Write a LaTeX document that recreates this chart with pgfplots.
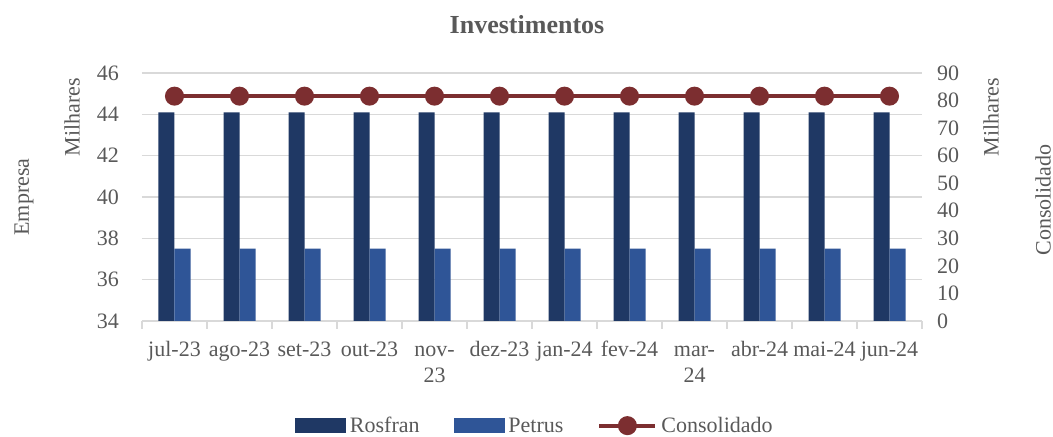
\documentclass[border=0pt]{standalone}
\usepackage{fontspec}
\setmainfont{Liberation Serif}
\usepackage{pgfplots}
\pgfplotsset{compat=1.18}
\definecolor{rosfran}{RGB}{31,56,100}
\definecolor{petrus}{RGB}{47,85,151}
\definecolor{consol}{RGB}{124,46,48}
\definecolor{txt}{RGB}{89,89,89}
\definecolor{gridc}{RGB}{217,217,217}

\newcommand{\two}[2]{\begin{tabular}[t]{@{}c@{}}#1\\#2\end{tabular}}

\pgfplotsset{common/.style={
  scale only axis, width=390pt, height=124pt,
  xmin=-0.5, xmax=11.5,
  tick label style={font=\fontsize{11}{13}\selectfont, text=txt},
  /pgf/number format/assume math mode=true,
}}

\begin{document}
\begin{tikzpicture}
\path[use as bounding box] (-71pt,-58pt) rectangle (455.5pt,160.5pt);
\begin{axis}[common, name=ax,
  ybar=0pt, bar width=8pt,
  ymin=34, ymax=46, ytick distance=2,
  axis x line*=bottom, axis y line*=left,
  y axis line style={draw=none},
  x axis line style={gridc, line width=0.8pt, -},
  ymajorgrids, grid style={gridc, line width=0.8pt},
  major y tick style={draw=none},
  yticklabel style={xshift=-8pt},
  xtick={0,...,11},
  xticklabels={jul-23,ago-23,set-23,out-23,\two{nov-}{23},dez-23,jan-24,fev-24,\two{mar-}{24},abr-24,mai-24,jun-24},
  xticklabel style={anchor=north, text height=8pt, yshift=-2pt},
  major x tick style={draw=none},
  extra x ticks={-0.5,0.5,1.5,2.5,3.5,4.5,5.5,6.5,7.5,8.5,9.5,10.5,11.5},
  extra x tick labels={},
  extra x tick style={grid=none, tick align=outside, major tick length=4pt,
    major x tick style={draw=gridc, line width=0.8pt}},
]
\addplot[fill=rosfran, draw=none] coordinates {
  (0,44.1) (1,44.1) (2,44.1) (3,44.1) (4,44.1) (5,44.1)
  (6,44.1) (7,44.1) (8,44.1) (9,44.1) (10,44.1) (11,44.1)};
\addplot[fill=petrus, draw=none] coordinates {
  (0,37.5) (1,37.5) (2,37.5) (3,37.5) (4,37.5) (5,37.5)
  (6,37.5) (7,37.5) (8,37.5) (9,37.5) (10,37.5) (11,37.5)};
\end{axis}

\begin{axis}[common,
  ymin=0, ymax=90, ytick distance=10,
  axis x line=none, axis y line*=right,
  y axis line style={draw=none},
  major y tick style={draw=none},
  yticklabel style={xshift=4pt},
  legend columns=3,
  legend style={at={(0.505,-0.422)}, anchor=center, draw=none, fill=none,
    font=\fontsize{11}{12}\selectfont, text=txt,
    nodes={text height=7.5pt, text depth=0.5pt},
    /tikz/every even column/.append style={column sep=15pt}},
  legend cell align=left,
]
\addlegendimage{legend image code/.code={\fill[rosfran] (0pt,-3.5pt) rectangle (25pt,3.5pt);}}
\addlegendentry{Rosfran}
\addlegendimage{legend image code/.code={\fill[petrus] (0pt,-3.5pt) rectangle (25pt,3.5pt);}}
\addlegendentry{Petrus}
\addplot[consol, line width=2pt, mark=*, mark size=3.75pt,
  legend image code/.code={\draw[consol, line width=2pt] (0pt,0pt) -- (28pt,0pt);
    \fill[consol] (14pt,0pt) circle (3.75pt);}]
  coordinates {
  (0,81.6) (1,81.6) (2,81.6) (3,81.6) (4,81.6) (5,81.6)
  (6,81.6) (7,81.6) (8,81.6) (9,81.6) (10,81.6) (11,81.6)};
\addlegendentry{Consolidado}
\end{axis}

\node[font=\bfseries\fontsize{13}{15}\selectfont, text=txt] at (192.5pt,148pt) {Investimentos};
\node[rotate=90, font=\fontsize{11}{12}\selectfont, text=txt] at (-35pt,102pt) {Milhares};
\node[rotate=90, font=\fontsize{11}{12}\selectfont, text=txt] at (-59pt,62pt) {Empresa};
\node[rotate=90, font=\fontsize{11}{12}\selectfont, text=txt] at (424.5pt,102pt) {Milhares};
\node[rotate=90, font=\fontsize{11}{12}\selectfont, text=txt] at (450.5pt,60.5pt) {Consolidado};
\end{tikzpicture}
\end{document}
